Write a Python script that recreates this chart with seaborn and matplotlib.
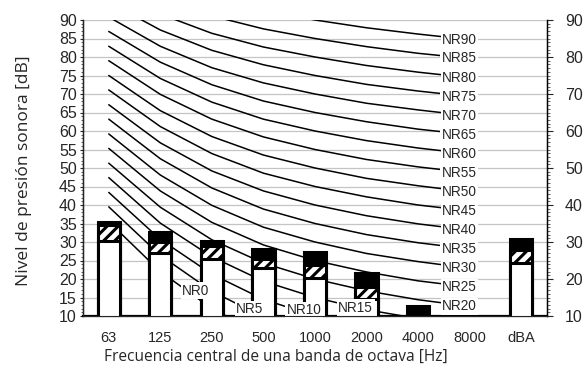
import numpy as np
import pandas as pd
import matplotlib
matplotlib.use("Agg")
import matplotlib.pyplot as plt
from matplotlib.ticker import MultipleLocator
import seaborn as sns

# Octave bands on the x axis (the last slot is the A-weighted total)
bands = ["63", "125", "250", "500", "1000", "2000", "4000", "8000", "dBA"]

# Stacked bar levels in dB (tops of each segment)
level_white = [30.3, 26.9, 25.5, 23.1, 20.4, 14.6, np.nan, np.nan, 24.3]
level_hatch = [34.5, 30.1, 28.9, 25.5, 23.7, 17.9, np.nan, np.nan, 27.8]
level_total = [35.5, 32.8, 30.3, 28.0, 27.2, 21.6, 12.6, np.nan, 30.8]

# Noise Rating curves, 63 Hz ... 8000 Hz
nr_bands = bands[:8]
nr_ratings = [0, 5, 10, 15, 20, 25, 30, 35, 40, 45, 50, 55, 60, 65, 70, 75, 80, 85, 90]
nr_levels = [
    [35.5, 22.0, 12.0, 4.8, 0.0, -3.5, -6.1, -8.0],
    [39.5, 26.4, 16.7, 9.7, 5.0, 1.6, -1.0, -2.9],
    [43.4, 30.7, 21.3, 14.5, 10.0, 6.6, 4.2, 2.3],
    [47.4, 35.1, 26.0, 19.4, 15.0, 11.7, 9.3, 7.5],
    [51.3, 39.4, 30.6, 24.3, 20.0, 16.8, 14.4, 12.6],
    [55.3, 43.8, 35.3, 29.2, 25.0, 21.9, 19.5, 17.8],
    [59.2, 48.1, 39.9, 34.0, 30.0, 26.9, 24.7, 22.9],
    [63.2, 52.5, 44.6, 38.9, 35.0, 32.0, 29.8, 28.1],
    [67.1, 56.8, 49.2, 43.8, 40.0, 37.1, 34.9, 33.2],
    [71.1, 61.2, 53.9, 48.6, 45.0, 42.2, 40.0, 38.4],
    [75.0, 65.5, 58.5, 53.5, 50.0, 47.2, 45.2, 43.5],
    [79.0, 69.9, 63.2, 58.4, 55.0, 52.3, 50.3, 48.7],
    [82.9, 74.2, 67.8, 63.2, 60.0, 57.4, 55.4, 53.8],
    [86.9, 78.6, 72.5, 68.1, 65.0, 62.5, 60.5, 59.0],
    [90.8, 82.9, 77.1, 73.0, 70.0, 67.5, 65.7, 64.1],
    [94.8, 87.3, 81.8, 77.9, 75.0, 72.6, 70.8, 69.3],
    [98.7, 91.6, 86.4, 82.7, 80.0, 77.7, 75.9, 74.4],
    [102.7, 96.0, 91.1, 87.6, 85.0, 82.8, 81.0, 79.6],
    [106.6, 100.3, 95.7, 92.5, 90.0, 87.9, 86.2, 84.7],
]

sns.set_style("white")
plt.rcParams["font.family"] = ["Liberation Sans", "DejaVu Sans"]
plt.rcParams["hatch.linewidth"] = 2.2

fig = plt.figure(figsize=(5.84, 3.72), dpi=100)
ax = fig.add_axes([83 / 584, 1 - 316 / 372, 464 / 584, 296 / 372])

# NR curves (long format, one unit per rating)
curves = pd.DataFrame(
    [(r, i, v) for r, row in zip(nr_ratings, nr_levels) for i, v in enumerate(row)],
    columns=["nr", "pos", "level"],
)
sns.lineplot(data=curves, x="pos", y="level", units="nr", estimator=None,
             color="black", linewidth=1.1, ax=ax, zorder=2)

# Stacked bars, drawn back to front
bars = pd.DataFrame({"band": bands, "white": level_white,
                     "hatch": level_hatch, "total": level_total})
common = dict(data=bars, x="band", order=bands, width=0.43, saturation=1,
              errorbar=None, edgecolor="black", linewidth=2.2, ax=ax)
sns.barplot(y="total", color="black", zorder=3, **common)
sns.barplot(y="hatch", color="white", hatch="///", zorder=3.1, **common)
sns.barplot(y="white", color="white", zorder=3.2, **common)

ax.set_xlim(-0.5, 8.5)
ax.set_ylim(10, 90)
ax.set_yticks(np.arange(10, 91, 5))
ax.yaxis.set_minor_locator(MultipleLocator(1))
ax.yaxis.grid(True, color="#c4c4c4", linewidth=0.9)
ax.xaxis.grid(False)
ax.set_axisbelow(True)
ax.tick_params(axis="y", which="major", left=True, length=2.5, width=0.8,
               labelsize=11.5, pad=2)
ax.tick_params(axis="y", which="minor", left=True, length=1.5, width=0.5)
ax.tick_params(axis="x", length=0, labelsize=10.5, pad=11)
for side in ("left", "bottom", "right"):
    ax.spines[side].set_color("black")
ax.spines["left"].set_linewidth(1.0)
ax.spines["bottom"].set_linewidth(1.6)
ax.spines["top"].set_visible(False)

# Rating labels
label_style = dict(fontsize=9.8, ha="center", va="center", zorder=5,
                   bbox=dict(facecolor="white", edgecolor="none", pad=1.0))
for r, row in zip(nr_ratings, nr_levels):
    if r >= 20:
        ax.text(6.8, row[-1], f"NR{r}", **label_style)
low_label_pos = {0: (1.69, 16.8), 5: (2.74, 11.9), 10: (3.79, 11.6), 15: (4.79, 12.2)}
for r, (lx, ly) in low_label_pos.items():
    ax.text(lx, ly, f"NR{r}", **label_style)

ax.set_xlabel("Frecuencia central de una banda de octava [Hz]",
              family=["Open Sans", "DejaVu Sans"], fontsize=11.2)
ax.set_ylabel("Nivel de presión sonora [dB]",
              family=["Open Sans", "DejaVu Sans"], fontsize=12.5)
ax.xaxis.set_label_coords(0.416, -0.112)
ax.yaxis.set_label_coords(-0.11, 0.49)

# Secondary scale on the right
ax2 = ax.twinx()
ax2.set_ylim(10, 90)
ax2.set_yticks(np.arange(10, 91, 10))
ax2.yaxis.set_minor_locator(MultipleLocator(1))
ax2.tick_params(axis="y", which="major", right=True, length=4, width=0.8,
                labelsize=11.5, pad=9)
ax2.tick_params(axis="y", which="minor", right=True, length=2, width=0.5)
ax2.spines["top"].set_visible(False)
ax2.spines["right"].set_color("black")
ax2.spines["right"].set_linewidth(1.0)

fig.savefig("out.png", dpi=100)
